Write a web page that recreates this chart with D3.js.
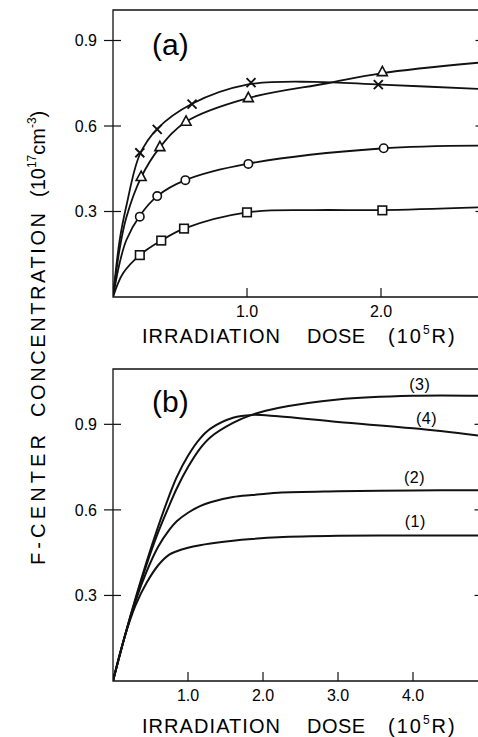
<!DOCTYPE html>
<html>
<head>
<meta charset="utf-8">
<script src="https://cdn.jsdelivr.net/npm/d3@7"></script>
<style>
body { margin: 0; background: #fff; }
svg { display: block; font-family: "Liberation Sans", "DejaVu Sans", sans-serif; }
</style>
</head>
<body>
<div id="chart"></div>
<script>
const crossDose = [0.2, 0.33, 0.59, 1.03, 1.98];
const crossConc = [0.506, 0.588, 0.677, 0.752, 0.745];
const triDose = [0.21, 0.35, 0.545, 1.01, 2.01];
const triConc = [0.422, 0.527, 0.616, 0.699, 0.79];
const circDose = [0.2, 0.33, 0.54, 1.01, 2.02];
const circConc = [0.282, 0.354, 0.41, 0.467, 0.522];
const sqDose = [0.2, 0.36, 0.53, 1.0, 2.01];
const sqConc = [0.147, 0.198, 0.24, 0.297, 0.304];

// panel (a): drawn fit lines
const crossFitDose = [0, 0.05, 0.1, 0.2, 0.33, 0.59, 1.0, 1.5, 2.0, 2.75];
const crossFitConc = [0, 0.2, 0.32, 0.5, 0.59, 0.678, 0.745, 0.755, 0.745, 0.73];
const triFitDose = [0, 0.05, 0.1, 0.21, 0.35, 0.545, 1.0, 1.6, 2.0, 2.75];
const triFitConc = [0, 0.17, 0.28, 0.42, 0.525, 0.615, 0.697, 0.75, 0.785, 0.823];
const circFitDose = [0, 0.05, 0.1, 0.2, 0.33, 0.54, 1.0, 2.0, 2.75];
const circFitConc = [0, 0.12, 0.2, 0.285, 0.354, 0.41, 0.467, 0.521, 0.531];
const sqFitDose = [0, 0.075, 0.2, 0.36, 0.53, 1.0, 1.5, 2.0, 2.75];
const sqFitConc = [0, 0.083, 0.147, 0.198, 0.24, 0.297, 0.305, 0.305, 0.315];

// panel (b): calculated curves (1)-(4)
const bDose = [0, 0.15, 0.3, 0.45, 0.6, 0.75, 0.85, 1.0, 1.16, 1.3, 1.6, 1.85, 2.2, 3.0, 4.0, 4.9];
const curve1 = [0, 0.15, 0.265, 0.345, 0.405, 0.443, 0.455, 0.467, 0.476, 0.482, 0.492, 0.498, 0.504, 0.509, 0.51, 0.51];
const curve2 = [0, 0.15, 0.28, 0.385, 0.47, 0.53, 0.56, 0.59, 0.613, 0.627, 0.645, 0.652, 0.66, 0.665, 0.668, 0.669];
const curve3 = [0, 0.15, 0.285, 0.41, 0.52, 0.615, 0.675, 0.75, 0.815, 0.855, 0.905, 0.933, 0.957, 0.987, 1.0, 1.0];
const curve4 = [0, 0.15, 0.29, 0.42, 0.54, 0.65, 0.715, 0.79, 0.85, 0.885, 0.923, 0.933, 0.928, 0.908, 0.886, 0.86];
const curveNames = ["(1)", "(2)", "(3)", "(4)"];
const labelDose = [4.03, 4.02, 4.09, 4.18];
const labelConc = [0.54, 0.694, 1.02, 0.901];

const yTicks = [0.3, 0.6, 0.9];
const xTicksA = [1.0, 2.0];
const xTicksB = [1.0, 2.0, 3.0, 4.0];

const svgWidth = 478;
const svgHeight = 737;

const svg = d3.select("#chart")
    .append("svg")
    .attr("width", svgWidth)
    .attr("height", svgHeight);

// scales for the two panels
const xA = d3.scaleLinear().domain([0, 2.75]).range([113, 481.5]);
const yA = d3.scaleLinear().domain([0, 1.007]).range([297, 10]);
const xB = d3.scaleLinear().domain([0, 4.9]).range([113, 480.5]);
const yB = d3.scaleLinear().domain([0, 1.094]).range([681, 369]);

function zip(xs, ys) {
    return xs.map((d, i) => [d, ys[i]]);
}

// frame with ticks: y ticks cross the left edge, x ticks point inward
function drawFrame(x, y, xTicks) {
    const g = svg.append("g");
    const [x0, x1] = x.range();
    const [y0, y1] = y.range();
    g.append("path")
        .attr("d", `M${x1},${y1}H${x0}V${y0}H${x1}V${y1}`)
        .attr("fill", "none")
        .attr("stroke", "#111")
        .attr("stroke-width", 1.3);
    g.selectAll(".ytick")
        .data(yTicks)
        .enter()
        .append("line")
        .attr("x1", x0 - 9)
        .attr("x2", x0 + 8)
        .attr("y1", d => y(d))
        .attr("y2", d => y(d))
        .attr("stroke", "#111")
        .attr("stroke-width", 1.2);
    g.selectAll(".ytickR")
        .data(yTicks)
        .enter()
        .append("line")
        .attr("x1", x1 - 6)
        .attr("x2", x1)
        .attr("y1", d => y(d))
        .attr("y2", d => y(d))
        .attr("stroke", "#111")
        .attr("stroke-width", 1.2);
    g.selectAll(".ylab")
        .data(yTicks)
        .enter()
        .append("text")
        .attr("x", x0 - 16)
        .attr("y", d => y(d) + 6)
        .attr("text-anchor", "end")
        .attr("font-size", 16)
        .text(d => d.toFixed(1));
    g.selectAll(".xtick")
        .data(xTicks)
        .enter()
        .append("line")
        .attr("x1", d => x(d))
        .attr("x2", d => x(d))
        .attr("y1", y0)
        .attr("y2", y0 - 9)
        .attr("stroke", "#111")
        .attr("stroke-width", 1.2);
    g.selectAll(".xlab")
        .data(xTicks)
        .enter()
        .append("text")
        .attr("x", d => x(d))
        .attr("y", y0 + 20)
        .attr("text-anchor", "middle")
        .attr("font-size", 16)
        .text(d => d.toFixed(1));
}

// "IRRADIATION  DOSE  (10^5 R)" spread out like the original lettering
function doseTitle(baseline) {
    const t = svg.append("g").attr("font-size", 20);
    t.append("text").attr("x", 142).attr("y", baseline)
        .attr("textLength", 138).attr("lengthAdjust", "spacing")
        .text("IRRADIATION");
    t.append("text").attr("x", 307).attr("y", baseline)
        .attr("textLength", 58).attr("lengthAdjust", "spacing")
        .text("DOSE");
    const p = t.append("text").attr("x", 388).attr("y", baseline)
        .attr("letter-spacing", 2);
    p.append("tspan").text("(10");
    p.append("tspan").attr("dy", -9).attr("font-size", 12).text("5");
    p.append("tspan").attr("dy", 9).text("R)");
}

drawFrame(xA, yA, xTicksA);
drawFrame(xB, yB, xTicksB);
doseTitle(343);
doseTitle(733);

const lineA = d3.line().x(d => xA(d[0])).y(d => yA(d[1])).curve(d3.curveCatmullRom.alpha(0.5));
const lineB = d3.line().x(d => xB(d[0])).y(d => yB(d[1])).curve(d3.curveCatmullRom.alpha(0.5));

const clipA = svg.append("clipPath").attr("id", "clipA");
clipA.append("rect").attr("x", 113).attr("y", 10).attr("width", 370).attr("height", 287);
const clipB = svg.append("clipPath").attr("id", "clipB");
clipB.append("rect").attr("x", 113).attr("y", 369).attr("width", 370).attr("height", 312);

const fitsA = [
    zip(crossFitDose, crossFitConc),
    zip(triFitDose, triFitConc),
    zip(circFitDose, circFitConc),
    zip(sqFitDose, sqFitConc)
];
svg.append("g").attr("clip-path", "url(#clipA)")
    .selectAll("path")
    .data(fitsA)
    .enter()
    .append("path")
    .attr("d", lineA)
    .attr("fill", "none")
    .attr("stroke", "#111")
    .attr("stroke-width", 1.8);

// markers for panel (a)
const markG = svg.append("g").attr("stroke", "#111").attr("stroke-width", 1.6).attr("fill", "#fff");
markG.selectAll(".circ")
    .data(zip(circDose, circConc))
    .enter()
    .append("circle")
    .attr("cx", d => xA(d[0]))
    .attr("cy", d => yA(d[1]))
    .attr("r", 4.2);
markG.selectAll(".sq")
    .data(zip(sqDose, sqConc))
    .enter()
    .append("rect")
    .attr("x", d => xA(d[0]) - 4.3)
    .attr("y", d => yA(d[1]) - 4.3)
    .attr("width", 8.6)
    .attr("height", 8.6);
markG.selectAll(".tri")
    .data(zip(triDose, triConc))
    .enter()
    .append("path")
    .attr("d", d => {
        const cx = xA(d[0]), cy = yA(d[1]);
        return `M${cx},${cy - 5.5}L${cx + 5},${cy + 3.8}L${cx - 5},${cy + 3.8}Z`;
    });
markG.selectAll(".cross")
    .data(zip(crossDose, crossConc))
    .enter()
    .append("path")
    .attr("fill", "none")
    .attr("stroke-width", 1.9)
    .attr("d", d => {
        const cx = xA(d[0]), cy = yA(d[1]);
        return `M${cx - 4.5},${cy - 4.5}L${cx + 4.5},${cy + 4.5}M${cx + 4.5},${cy - 4.5}L${cx - 4.5},${cy + 4.5}`;
    });

// panel (b) curves
const curvesB = [curve1, curve2, curve3, curve4].map(c => zip(bDose, c));
svg.append("g").attr("clip-path", "url(#clipB)")
    .selectAll("path")
    .data(curvesB)
    .enter()
    .append("path")
    .attr("d", lineB)
    .attr("fill", "none")
    .attr("stroke", "#111")
    .attr("stroke-width", 2);

// curve labels, placed where the original has them
svg.selectAll(".clab")
    .data(curveNames)
    .enter()
    .append("text")
    .attr("x", (d, i) => xB(labelDose[i]))
    .attr("y", (d, i) => yB(labelConc[i]))
    .attr("text-anchor", "middle")
    .attr("font-size", 16)
    .attr("letter-spacing", 0.5)
    .text(d => d);

// panel letters
svg.append("text").attr("x", 152).attr("y", 55).attr("font-size", 30).attr("font-weight", 300).text("(a)");
svg.append("text").attr("x", 152).attr("y", 412).attr("font-size", 30).attr("font-weight", 300).text("(b)");

// shared y axis title, rotated
const yt = svg.append("g")
    .attr("transform", "translate(45,565) rotate(-90)")
    .attr("font-size", 20);
yt.append("text").attr("x", 0).attr("y", 0)
    .attr("textLength", 130).attr("lengthAdjust", "spacing")
    .text("F-CENTER");
yt.append("text").attr("x", 148).attr("y", 0)
    .attr("textLength", 204).attr("lengthAdjust", "spacing")
    .text("CONCENTRATION");
const unit = yt.append("text").attr("x", 368).attr("y", 0);
unit.append("tspan").text("(10");
unit.append("tspan").attr("dy", -9).attr("font-size", 12).text("17");
unit.append("tspan").attr("dy", 9).text("cm");
unit.append("tspan").attr("dy", -9).attr("font-size", 12).text("-3");
unit.append("tspan").attr("dy", 9).text(")");
</script>
</body>
</html>
